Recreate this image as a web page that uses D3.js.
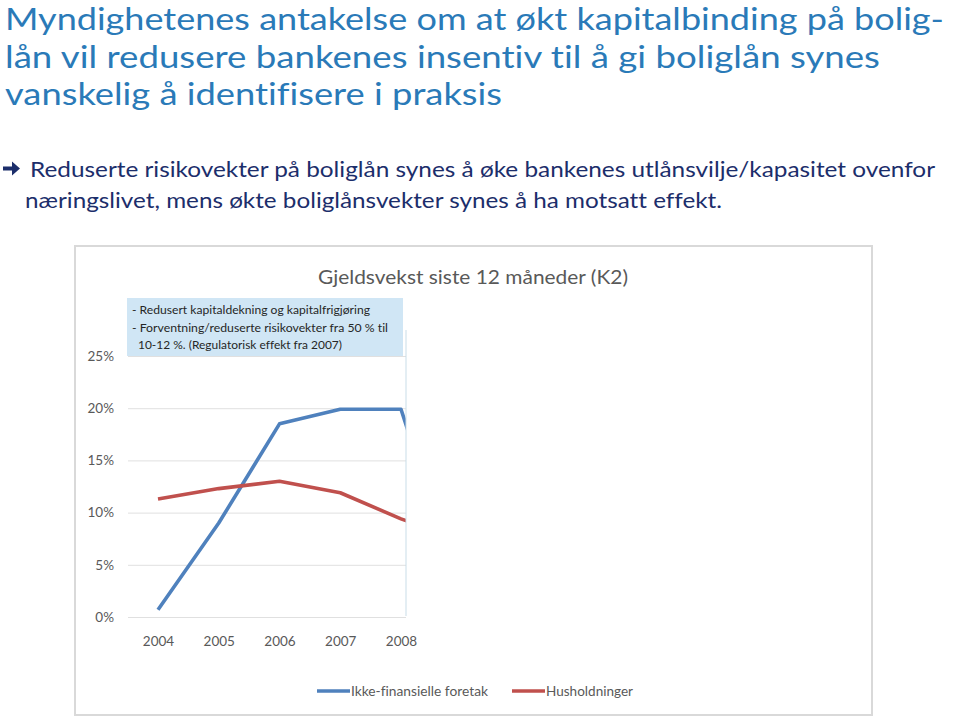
<!DOCTYPE html>
<html><head><meta charset="utf-8">
<script src="https://cdn.jsdelivr.net/npm/d3@7"></script>
<style>body{margin:0;background:#fff}svg{display:block}text{font-family:Lato,"Open Sans",sans-serif;font-variant-ligatures:none;font-feature-settings:"liga" 0}</style>
</head><body>
<svg id="c" width="960" height="718"></svg>
<script>
const titleLines = ["Myndighetenes antakelse om at økt kapitalbinding på bolig-",
  "lån vil redusere bankenes insentiv til å gi boliglån synes",
  "vanskelig å identifisere i praksis"];
const bulletLines = ["Reduserte risikovekter på boliglån synes å øke bankenes utlånsvilje/kapasitet ovenfor",
  "næringslivet, mens økte boliglånsvekter synes å ha motsatt effekt."];
const chartTitle = "Gjeldsvekst siste 12 måneder (K2)";
const years = [2004, 2005, 2006, 2007, 2008, 2009];
const nonFinancial = [0.7, 9.0, 18.5, 19.9, 19.9, 2.0];
const households = [11.3, 12.3, 13.0, 11.9, 9.4, 7.3];
const yTicks = [0, 5, 10, 15, 20, 25];
const xTicks = [2004, 2005, 2006, 2007, 2008];
const seriesNames = ["Ikke-finansielle foretak", "Husholdninger"];
const seriesColors = ["#4F81BD", "#C0504D"];
const noteLines = ["- Redusert kapitaldekning og kapitalfrigjøring",
  "- Forventning/reduserte risikovekter fra 50 % til",
  "  10-12 %. (Regulatorisk effekt fra 2007)"];

const svg = d3.select("#c");
function fit(sel, w){ sel.attr("textLength", w).attr("lengthAdjust","spacingAndGlyphs"); }

// Title
const tW = [939, 875, 497];
titleLines.forEach((t,i)=>{
  const el = svg.append("text").attr("x",5).attr("y",30+i*37.5).attr("font-size",30).attr("fill","#2A7AB8").text(t);
  fit(el, tW[i]);
});
// Bullet arrow
svg.append("path").attr("d","M3,166.5 L12,166.5 L12,161.5 L20,168.5 L12,175.5 L12,170.5 L3,170.5 Z").attr("fill","#1C2E6B");
const bX = [30, 25], bW = [905, 697];
bulletLines.forEach((t,i)=>{
  const el = svg.append("text").attr("x",bX[i]).attr("y",177+i*31).attr("font-size",21).attr("fill","#1C2E6B").text(t);
  fit(el, bW[i]);
});

// Chart frame
svg.append("rect").attr("x",75).attr("y",246).attr("width",797).attr("height",469)
  .attr("fill","#fff").attr("stroke","#d9d9d9").attr("stroke-width",2);
const ct = svg.append("text").attr("x",318).attr("y",284).attr("font-size",19).attr("fill","#595959").text(chartTitle);
fit(ct, 310);

const x = d3.scaleLinear().domain([2004, 2008]).range([158, 401]);
const y = d3.scaleLinear().domain([0, 25]).range([617, 356]);

// gridlines
const grid = d3.axisLeft(y).tickValues(yTicks).tickSize(-278).tickFormat(d=>d+"%");
const gY = svg.append("g").attr("transform","translate(128,0)").call(grid);
gY.select(".domain").remove();
gY.selectAll(".tick line").attr("stroke","#e0e0e0");
gY.selectAll(".tick text").attr("x",-14).attr("font-size",13.5).attr("fill","#595959").attr("font-family","Lato");

const gX = svg.append("g").attr("transform","translate(0,636)").call(d3.axisBottom(x).tickValues(xTicks).tickSize(0).tickFormat(d3.format("d")));
gX.select(".domain").remove();
gX.selectAll(".tick text").attr("font-size",13.5).attr("fill","#595959").attr("font-family","Lato").attr("dy","0.5em");

svg.append("clipPath").attr("id","clip").append("rect").attr("x",100).attr("y",300).attr("width",306).attr("height",340);
const line = d3.line().x((d,i)=>x(years[i])).y(d=>y(d));
const g = svg.append("g").attr("clip-path","url(#clip)");
[nonFinancial, households].forEach((s,k)=>{
  g.append("path").datum(s).attr("d",line).attr("fill","none").attr("stroke",seriesColors[k]).attr("stroke-width",3.6).attr("stroke-linejoin","round");
});
svg.append("line").attr("x1",406).attr("x2",406).attr("y1",330).attr("y2",616).attr("stroke","#c9dde8").attr("stroke-width",1);

// Annotation
svg.append("rect").attr("x",127).attr("y",298).attr("width",276).attr("height",58).attr("fill","#D0E6F5");
const nX=[132,132,138], nW=[238,256,204];
noteLines.forEach((t,i)=>{
  const el = svg.append("text").attr("x",nX[i]).attr("y",314+i*17.5).attr("font-size",12).attr("fill","#262626").text(t.trim());
  fit(el, nW[i]);
});

// Legend
const lx = [317, 512], tx=[351,546], tw=[137,87];
seriesNames.forEach((n,k)=>{
  svg.append("line").attr("x1",lx[k]).attr("x2",lx[k]+33).attr("y1",691).attr("y2",691).attr("stroke",seriesColors[k]).attr("stroke-width",3.6);
  const el = svg.append("text").attr("x",tx[k]).attr("y",696).attr("font-size",13).attr("fill","#595959").text(n);
  fit(el, tw[k]);
});
</script>
</body></html>
